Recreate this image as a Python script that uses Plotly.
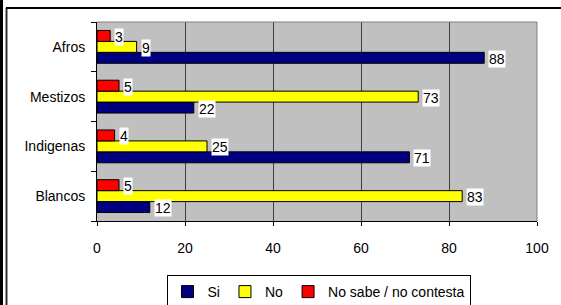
import plotly.graph_objects as go

categories = ["Blancos", "Indigenas", "Mestizos", "Afros"]
series_names = ["Si", "No", "No sabe / no contesta"]
si_values = [12, 71, 22, 88]
no_values = [83, 25, 73, 9]
ns_values = [5, 4, 5, 3]
series_values = [si_values, no_values, ns_values]
series_colors = ["#000080", "#FFFF00", "#FF0000"]
x_ticks = [0, 20, 40, 60, 80, 100]

W, H = 561, 305
ML, MR, MT, MB = 97, 24, 22, 84
PW, PH = W - ML - MR, H - MT - MB
BARGAP = 0.34
FONT = "Arial, Liberation Sans, sans-serif"


def px_x(p):
    return (p - ML) / PW


def px_y(p):
    return 1 - (p - MT) / PH


fig = go.Figure()
for name, vals, col in zip(series_names, series_values, series_colors):
    fig.add_trace(go.Bar(
        y=categories, x=vals, name=name, orientation="h",
        marker=dict(color=col, line=dict(color="black", width=1)),
    ))

band = PH / len(categories)
bar_w = band * (1 - BARGAP) / len(series_names)
annotations = []
for i, vals in enumerate(series_values):
    shift = (i - (len(series_names) - 1) / 2) * bar_w
    for cat, v in zip(categories, vals):
        annotations.append(dict(
            x=v, y=cat, xref="x", yref="y", text=str(v), showarrow=False,
            xanchor="left", yanchor="middle", xshift=4, yshift=shift - 1,
            bgcolor="white", borderpad=0,
            font=dict(family=FONT, size=14, color="black"),
        ))

shapes = [
    # plot area top and right border (gray)
    dict(type="line", xref="paper", yref="paper", x0=0, x1=1, y0=1, y1=1,
         line=dict(color="#808080", width=1)),
    dict(type="line", xref="paper", yref="paper", x0=1, x1=1, y0=0, y1=1,
         line=dict(color="#808080", width=1)),
    # outer frame: thick outer left line
    dict(type="line", xref="paper", yref="paper", x0=px_x(1.5), x1=px_x(1.5),
         y0=px_y(0), y1=px_y(H), line=dict(color="black", width=3)),
    # inner frame left line
    dict(type="line", xref="paper", yref="paper", x0=px_x(6.5), x1=px_x(6.5),
         y0=px_y(8), y1=px_y(H), line=dict(color="#303030", width=2)),
]

fig.update_layout(
    width=W, height=H,
    margin=dict(l=ML, r=MR, t=MT, b=MB, autoexpand=False),
    paper_bgcolor="white", plot_bgcolor="#C0C0C0",
    barmode="group", bargap=BARGAP, bargroupgap=0,
    font=dict(family=FONT, size=14, color="black"),
    showlegend=True,
    legend=dict(
        orientation="h", x=px_x(318.5), xanchor="center",
        y=px_y(275), yanchor="top",
        bgcolor="white", bordercolor="black", borderwidth=1,
        font=dict(family=FONT, size=14, color="black"),
        traceorder="normal", itemwidth=30,
    ),
    annotations=annotations,
    shapes=shapes,
)
fig.update_xaxes(
    range=[0, 100], tickvals=x_ticks, ticktext=[str(t) for t in x_ticks],
    showgrid=True, gridcolor="#404040", gridwidth=1, zeroline=False,
    showline=True, linecolor="black", linewidth=1,
    ticks="outside", ticklen=4, tickcolor="black", ticklabelstandoff=10,
    tickfont=dict(family=FONT, size=14, color="black"),
)
fig.update_yaxes(
    type="category", categoryorder="array", categoryarray=categories,
    tickson="boundaries", showgrid=False, zeroline=False,
    showline=True, linecolor="black", linewidth=1,
    ticks="outside", ticklen=5, tickcolor="black", ticklabelstandoff=8,
    tickfont=dict(family=FONT, size=14, color="black"),
)

fig.write_html(
    "out.html",
    config={"displayModeBar": False},
    post_script=(
        "var st=document.createElement('style');"
        "st.textContent='html,body{margin:0;padding:0;overflow:hidden;"
        "scrollbar-width:none;}::-webkit-scrollbar{display:none;width:0;height:0;}';"
        "document.head.appendChild(st);"
        "var fr=document.createElement('div');"
        "fr.style.cssText='position:absolute;left:6px;top:7px;width:" + str(W) + "px;"
        "height:2px;background:#000;pointer-events:none;z-index:10;';"
        "document.body.appendChild(fr);"
    ),
)
